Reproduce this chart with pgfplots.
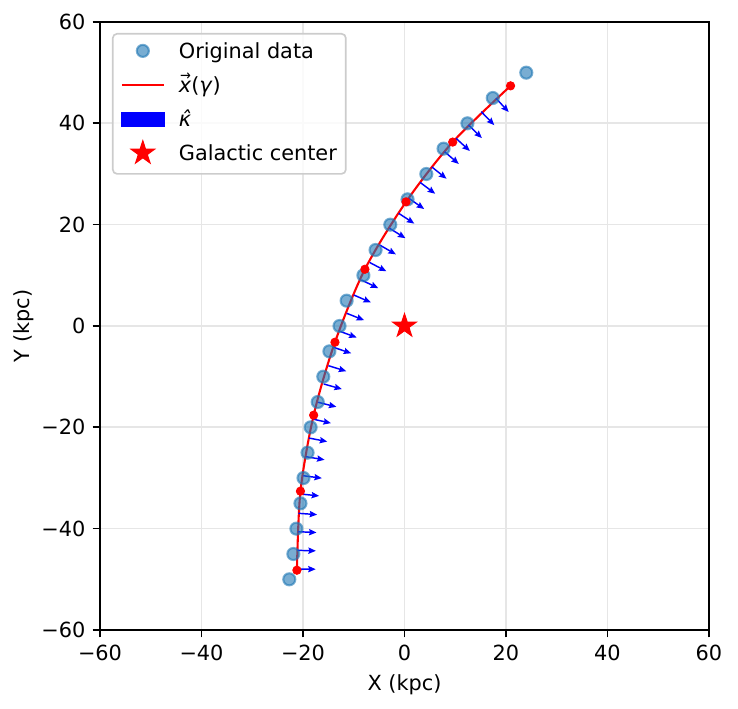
\documentclass[border=0pt]{standalone}
\usepackage{fontspec}
\setmainfont{DejaVu Sans}
\usepackage{graphicx}
\usepackage{pgfplots}
\pgfplotsset{compat=1.18}
\usetikzlibrary{arrows.meta}

\definecolor{mplblue}{RGB}{31,119,180}
\definecolor{gridgray}{RGB}{230,230,230}
\definecolor{legedge}{RGB}{204,204,204}

% filled five-pointed star
\pgfdeclareplotmark{fivestar}{%
  \pgfpathmoveto{\pgfpointpolar{90}{\pgfplotmarksize}}%
  \pgfpathlineto{\pgfpointpolar{126}{0.382\pgfplotmarksize}}%
  \pgfpathlineto{\pgfpointpolar{162}{\pgfplotmarksize}}%
  \pgfpathlineto{\pgfpointpolar{198}{0.382\pgfplotmarksize}}%
  \pgfpathlineto{\pgfpointpolar{234}{\pgfplotmarksize}}%
  \pgfpathlineto{\pgfpointpolar{270}{0.382\pgfplotmarksize}}%
  \pgfpathlineto{\pgfpointpolar{306}{\pgfplotmarksize}}%
  \pgfpathlineto{\pgfpointpolar{342}{0.382\pgfplotmarksize}}%
  \pgfpathlineto{\pgfpointpolar{18}{\pgfplotmarksize}}%
  \pgfpathlineto{\pgfpointpolar{54}{0.382\pgfplotmarksize}}%
  \pgfpathclose
  \pgfusepathqfillstroke
}

% legend symbols, each kept inside the height of one text row
\pgfplotsset{
  /pgfplots/markleg/.style={legend image code/.code={%
    \path[draw=none, fill=none, use as bounding box] (0bp,-5.4bp) rectangle (20.2bp,5.4bp);
    \draw[mark repeat=2, mark phase=2, ##1]
      plot coordinates {(0bp,0.9bp) (10.1bp,0.9bp) (20.2bp,0.9bp)};}},
  /pgfplots/lineleg/.style={legend image code/.code={%
    \path[draw=none, fill=none, use as bounding box] (0bp,-5.4bp) rectangle (20.2bp,5.4bp);
    \draw[##1] (0bp,0.9bp) -- (20.2bp,0.9bp);}},
  /pgfplots/arrowleg/.style={legend image code/.code={%
    \path[draw=none, fill=none, use as bounding box] (0bp,-5.4bp) rectangle (20.2bp,5.4bp);
    \fill[blue, fill opacity=1, sharp corners] (0bp,-2.7bp) rectangle (20.2bp,4.0bp);}},
}

\newcommand{\vecx}{\leavevmode\rlap{\hspace{0.06em}\raisebox{0.56em}{\scalebox{0.62}[0.7]{→}}}\textit{x}}

% observed positions
\pgfplotstableread{
x      y
-22.7  -50
-21.9  -45
-21.3  -40
-20.5  -35
-19.9  -30
-19.1  -25
-18.5  -20
-17.1  -15
-16.0  -10
-14.8  -5
-12.8  0
-11.4  5
-8.1   10
-5.7   15
-2.8   20
0.6    25
4.3    30
7.7    35
12.4   40
17.4   45
24.0   50
}\obsdata

% curve control points
\pgfplotstableread{
x      y
-21.2  -48.2
-20.5  -32.6
-17.9  -17.6
-13.7  -3.2
-7.8   11.2
0.3    24.5
9.5    36.3
20.9   47.4
}\knots

% curvature direction along the curve
\pgfplotstableread{
x       y       u      v
-21.19  -47.97  3.700  -0.032
-21.15  -44.28  3.699  -0.097
-21.03  -40.60  3.696  -0.161
-20.90  -36.97  3.691  -0.258
-20.50  -33.16  3.681  -0.374
-19.95  -29.55  3.668  -0.483
-19.40  -25.80  3.650  -0.604
-18.85  -22.11  3.632  -0.706
-18.10  -18.36  3.609  -0.813
-17.00  -15.06  3.589  -0.901
-15.90  -11.45  3.562  -1.001
-15.00  -7.83   3.535  -1.094
-14.00  -4.20   3.502  -1.192
-12.90  -0.99   3.473  -1.278
-11.40  2.51    3.438  -1.368
-10.00  6.12    3.393  -1.475
-8.50   9.08    3.334  -1.605
-6.85   12.53   3.273  -1.726
-4.90   15.99   3.204  -1.850
-2.95   19.29   3.138  -1.961
-1.15   22.25   3.085  -2.042
0.85    25.21   3.031  -2.122
3.10    28.33   2.955  -2.227
5.40    31.38   2.887  -2.313
7.90    34.40   2.802  -2.417
10.15   37.04   2.728  -2.500
12.60   39.67   2.653  -2.579
15.12   42.30   2.575  -2.657
18.02   44.95   2.513  -2.716
}\kappadata

\begin{document}
\begin{tikzpicture}
\path[use as bounding box] (-48bp,-37.92bp) rectangle (306.24bp,302.4bp);
\begin{axis}[
  at={(0,0)}, anchor=south west,
  width=292.32bp, height=291.84bp, scale only axis,
  xmin=-60, xmax=60, ymin=-60, ymax=60,
  xtick={-60,-40,...,60}, ytick={-60,-40,...,60},
  xticklabels={−60,−40,−20,0,20,40,60},
  yticklabels={−60,−40,−20,0,20,40,60},
  tick pos=left,
  tick align=outside, major tick length=3.5bp,
  tick style={black, line width=0.8bp},
  axis line style={line width=0.8bp},
  grid=major, major grid style={gridgray, line width=0.8bp},
  xlabel={X (kpc)}, ylabel={Y (kpc)},
  ylabel style={yshift=-3.2bp},
  tick label style={font=\fontsize{10bp}{12bp}\selectfont},
  label style={font=\fontsize{10bp}{12bp}\selectfont},
  /pgf/number format/assume math mode=true,
  legend cell align=left,
  legend style={at={(0.0197,0.9819)}, anchor=north west,
    draw=legedge, line width=0.8bp, rounded corners=2bp,
    fill=white, fill opacity=0.8, draw opacity=1, text opacity=1,
    inner xsep=4.3bp, inner ysep=3.6bp,
    font=\fontsize{10bp}{12bp}\selectfont,
    column sep=7.2bp, row sep=5.4bp,
    nodes={inner sep=0pt, text height=8.2bp, text depth=2.75bp}},
]
\addplot[only marks, mark=*, mark size=2.9bp,
  mark options={fill=mplblue, draw=mplblue, line width=1bp, opacity=0.6},
  markleg]
  table[x=x, y=y] {\obsdata};
\addlegendentry{Original data}

\addplot[red, line width=1bp, smooth, lineleg]
  table[x=x, y=y] {\knots};
\addlegendentry{\vecx(\textit{γ})}

\addplot[only marks, mark=*, mark size=2bp, red,
  mark options={fill=red, draw=red}, forget plot]
  table[x=x, y=y] {\knots};

\addplot[blue, line width=0.7bp,
  -{Stealth[length=3.6bp, width=3bp, inset=0.5bp]},
  quiver={u=\thisrow{u}, v=\thisrow{v}}, arrowleg]
  table[x=x, y=y] {\kappadata};
\addlegendentry{\textit{κ̂}}

\addplot[only marks, mark=fivestar, mark size=5.9bp,
  mark options={fill=red, draw=red, line width=0.5bp, fill opacity=1},
  markleg]
  coordinates {(0,0)};
\addlegendentry{Galactic center}
\end{axis}
\end{tikzpicture}
\end{document}
